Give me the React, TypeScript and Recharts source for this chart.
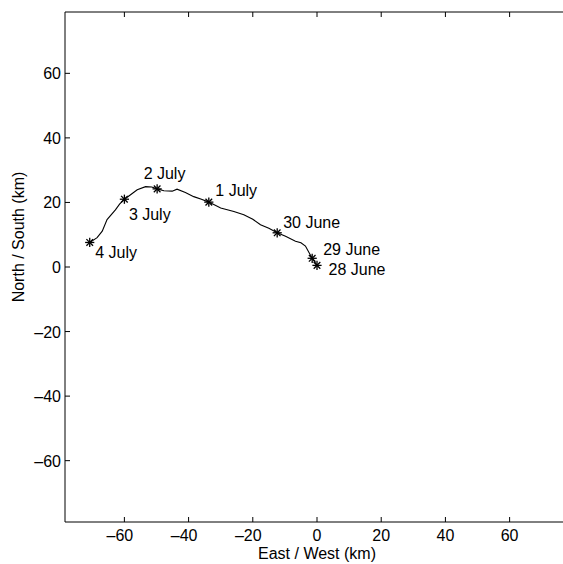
import React from 'react'
import { ScatterChart, Scatter, XAxis, YAxis } from 'recharts'

// daily positions (km from the 28 June start)
const stations = ['28 June', '29 June', '30 June', '1 July', '2 July', '3 July', '4 July']
const stationEast = [0, -1.5, -12.4, -33.7, -49.8, -60, -70.8]
const stationNorth = [0.5, 2.7, 10.6, 20.1, 24.2, 21, 7.6]

// drift track, in time order
const trackEast = [0, -1.5, -2.5, -3.6, -5, -6.7, -9.8, -12.4, -15, -17.6, -20, -22.8, -25.9, -30, -33.7,
  -36, -38.4, -41, -43.6, -45.1, -47.7, -49.8, -51.5, -53.4, -56, -58.6, -60, -61.5, -62.8, -65.4, -66.9, -68.5, -70.8]
const trackNorth = [0.5, 2.7, 4.5, 6.5, 7.5, 8, 9.5, 10.6, 12, 13.1, 14.8, 16.2, 17.2, 18.3, 20.1,
  21, 21.8, 23.1, 24.1, 23.5, 23.6, 24.2, 24.8, 24.9, 23.9, 22, 21, 19.5, 17.7, 14.7, 11.1, 9.1, 7.6]

const axisTicks = [-60, -40, -20, 0, 20, 40, 60]

// where each date label sits relative to its star (px)
const labelOffsets: Record<string, [number, number]> = {
  '28 June': [11.5, 9.5],
  '29 June': [11, -3],
  '30 June': [6, -5],
  '1 July': [6.5, -6],
  '2 July': [-13.5, -9.5],
  '3 July': [4.5, 20.5],
  '4 July': [5.5, 15.5],
}

const FONT = '"Liberation Sans", Arial, Helvetica, sans-serif'
const FS = 16

const stationData = stations.map((name, i) => ({ name, x: stationEast[i], y: stationNorth[i] }))
const trackData = trackEast.map((x, i) => ({ x, y: trackNorth[i] }))

const fmt = (v: number) => (v < 0 ? '\u2013' + Math.abs(v) : String(v))

const BottomTick = (props: any) => {
  const { x, y, payload } = props
  const v = payload.value
  return (
    <g>
      <line x1={x} y1={y} x2={x} y2={y - 5} stroke="#000" />
      <text x={x} y={y + 19} dx={v < 0 ? -4.5 : 0} textAnchor="middle" fontSize={FS} fontFamily={FONT} fill="#000">
        {fmt(v)}
      </text>
    </g>
  )
}

const TopTick = (props: any) => {
  const { x, y } = props
  return <line x1={x} y1={y} x2={x} y2={y + 5} stroke="#000" />
}

const LeftTick = (props: any) => {
  const { x, y, payload } = props
  return (
    <g>
      <line x1={x} y1={y} x2={x + 5} y2={y} stroke="#000" />
      <text x={x - 4} y={y + 6} textAnchor="end" fontSize={FS} fontFamily={FONT} fill="#000">
        {fmt(payload.value)}
      </text>
    </g>
  )
}

const RightTick = (props: any) => {
  const { x, y } = props
  return <line x1={x} y1={y} x2={x - 5} y2={y} stroke="#000" />
}

const Star = (props: any) => {
  const { cx, cy, payload } = props
  const r = 4.6
  const d = r * 0.72
  const [dx, dy] = labelOffsets[payload.name] || [6, 0]
  return (
    <g stroke="#000" strokeWidth={1.3}>
      <line x1={cx - r} y1={cy} x2={cx + r} y2={cy} />
      <line x1={cx} y1={cy - r} x2={cx} y2={cy + r} />
      <line x1={cx - d} y1={cy - d} x2={cx + d} y2={cy + d} />
      <line x1={cx - d} y1={cy + d} x2={cx + d} y2={cy - d} />
      <text x={cx + dx} y={cy + dy} stroke="none" fill="#000" fontSize={FS} fontFamily={FONT}>
        {payload.name}
      </text>
    </g>
  )
}

const NoDot = () => <g />

export default function App() {
  return (
    <div style={{ position: 'absolute', left: 0, top: 0, width: 563, height: 564, overflow: 'hidden', background: '#fff' }}>
      <ScatterChart width={570} height={564} margin={{ top: 11, right: 0, bottom: 0, left: 0 }}>
        <XAxis
          xAxisId="b"
          dataKey="x"
          type="number"
          domain={[-78.5, 78.5]}
          allowDataOverflow
          ticks={axisTicks}
          interval={0}
          height={42}
          tickSize={0}
          tickMargin={0}
          tickLine={false}
          axisLine={{ stroke: '#000' }}
          tick={BottomTick}
          label={{
            content: (p: any) => (
              <text
                x={p.viewBox.x + p.viewBox.width / 2}
                y={p.viewBox.y + 37}
                textAnchor="middle"
                fontSize={FS}
                fontFamily={FONT}
                fill="#000"
              >
                East / West (km)
              </text>
            ),
          }}
        />
        <XAxis
          xAxisId="t"
          orientation="top"
          dataKey="x"
          type="number"
          domain={[-78.5, 78.5]}
          allowDataOverflow
          ticks={axisTicks}
          interval={0}
          height={1}
          tickSize={0}
          tickMargin={0}
          tickLine={false}
          axisLine={{ stroke: '#000' }}
          tick={TopTick}
        />
        <YAxis
          yAxisId="l"
          dataKey="y"
          type="number"
          domain={[-79, 79]}
          allowDataOverflow
          ticks={axisTicks}
          interval={0}
          width={65}
          tickSize={0}
          tickMargin={0}
          tickLine={false}
          axisLine={{ stroke: '#000' }}
          tick={LeftTick}
          label={{
            content: () => (
              <text
                x={24}
                y={237}
                transform="rotate(-90, 24, 237)"
                textAnchor="middle"
                fontSize={FS}
                fontFamily={FONT}
                fill="#000"
              >
                North / South (km)
              </text>
            ),
          }}
        />
        <YAxis
          yAxisId="r"
          orientation="right"
          dataKey="y"
          type="number"
          domain={[-79, 79]}
          allowDataOverflow
          ticks={axisTicks}
          interval={0}
          width={1}
          tickSize={0}
          tickMargin={0}
          tickLine={false}
          axisLine={{ stroke: '#000' }}
          tick={RightTick}
        />
        <Scatter
          xAxisId="b"
          yAxisId="l"
          data={trackData}
          line={{ stroke: '#000', strokeWidth: 1.1 }}
          shape={NoDot}
          isAnimationActive={false}
        />
        <Scatter xAxisId="b" yAxisId="l" data={stationData} shape={Star} isAnimationActive={false} />
      </ScatterChart>
    </div>
  )
}
